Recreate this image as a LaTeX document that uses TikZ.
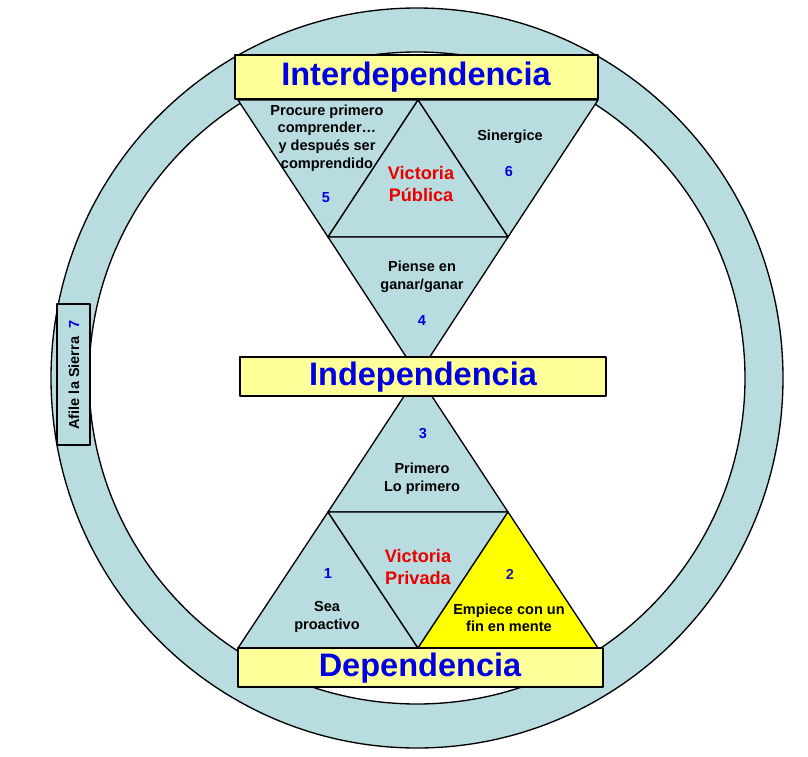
\documentclass[tikz,border=0pt]{standalone}
\usepackage{fontspec}
\setmainfont{Liberation Sans}
\definecolor{lblue}{RGB}{184,220,223}
\definecolor{bannery}{RGB}{255,255,153}
\definecolor{tblue}{RGB}{0,0,225}
\definecolor{tred}{RGB}{235,0,0}
\definecolor{navy}{RGB}{25,25,165}
\definecolor{yel}{RGB}{255,255,0}
\begin{document}
\begin{tikzpicture}[x=0.75pt,y=-0.75pt,
  outl/.style={draw=black,line width=1pt,line join=round},
  tri/.style={outl,fill=lblue},
  banner/.style={outl,fill=bannery},
  bigtxt/.style={font=\fontsize{24.4}{28}\selectfont\bfseries,text=tblue,inner sep=0},
  smalltxt/.style={font=\fontsize{10.9}{13.2}\selectfont\bfseries,align=center,inner sep=0},
  numtxt/.style={font=\fontsize{10.9}{13}\selectfont\bfseries,text=tblue,inner sep=0},
  victxt/.style={font=\fontsize{13.6}{15.8}\selectfont\bfseries,text=tred,align=center,inner sep=0}]
\useasboundingbox (0,0) rectangle (808,757);
% ring
\fill[lblue,even odd rule] (417,378) ellipse [x radius=366,y radius=370]
                            (417,378) ellipse [x radius=328,y radius=326];
\draw[outl] (417,378) ellipse [x radius=366,y radius=370];
\draw[outl] (417,378) ellipse [x radius=328,y radius=326];
% triangle vertices
\coordinate (tl) at (238,100);
\coordinate (tm) at (418,100);
\coordinate (tr) at (598,100);
\coordinate (ml1) at (328,237);
\coordinate (mr1) at (508,237);
\coordinate (ctr) at (418,375);
\coordinate (ml2) at (328,512);
\coordinate (mr2) at (508,512);
\coordinate (bl) at (238,648);
\coordinate (bm) at (418,648);
\coordinate (br) at (598,648);
% top triangles
\path[tri] (tl) -- (tm) -- (ml1) -- cycle;
\path[tri] (tm) -- (tr) -- (mr1) -- cycle;
\path[tri] (tm) -- (mr1) -- (ml1) -- cycle;
\path[tri] (ml1) -- (mr1) -- (ctr) -- cycle;
% bottom triangles
\path[tri] (ctr) -- (mr2) -- (ml2) -- cycle;
\path[tri] (ml2) -- (bm) -- (bl) -- cycle;
\path[tri] (ml2) -- (mr2) -- (bm) -- cycle;
\path[outl,fill=yel] (mr2) -- (br) -- (bm) -- cycle;
% banners
\path[banner] (235,55) rectangle (598,99);
\path[banner] (240,357) rectangle (606,396);
\path[banner] (238,648) rectangle (603,687);
\node[bigtxt] (inter) at (416,77) {Interdependencia};
\node[bigtxt] (indep) at (423,377) {Independencia};
\node[bigtxt] (dep) at (420,668) {Dependencia};
% side box
\path[tri] (57,304) rectangle (90,445);
\node[smalltxt,rotate=90] (afile) at (74,375) {Afile la Sierra\ \ \textcolor{tblue}{7}};
% texts top
\node[smalltxt] (t5) at (327,138) {Procure primero\\comprender\ldots\\y después ser\\comprendido};
\node[numtxt] (n5) at (326,198) {5};
\node[smalltxt] (t6) at (510,137) {Sinergice};
\node[numtxt] (n6) at (509,171) {6};
\node[victxt] (vpub) at (421,184) {Victoria\\Pública};
\node[smalltxt] (t4) at (422,277) {Piense en\\ganar/ganar};
\node[numtxt] (n4) at (422,320) {4};
% texts bottom
\node[numtxt] (n3) at (423,434) {3};
\node[smalltxt] (t3) at (422,479) {Primero\\Lo primero};
\node[numtxt] (n1) at (328,573) {1};
\node[smalltxt] (t1) at (327,617) {Sea\\proactivo};
\node[victxt] (vpri) at (418,567) {Victoria\\Privada};
\node[numtxt,text=navy] (n2) at (510,574) {2};
\node[smalltxt] (t2) at (509,618) {Empiece con un\\fin en mente};
\end{tikzpicture}
\end{document}
